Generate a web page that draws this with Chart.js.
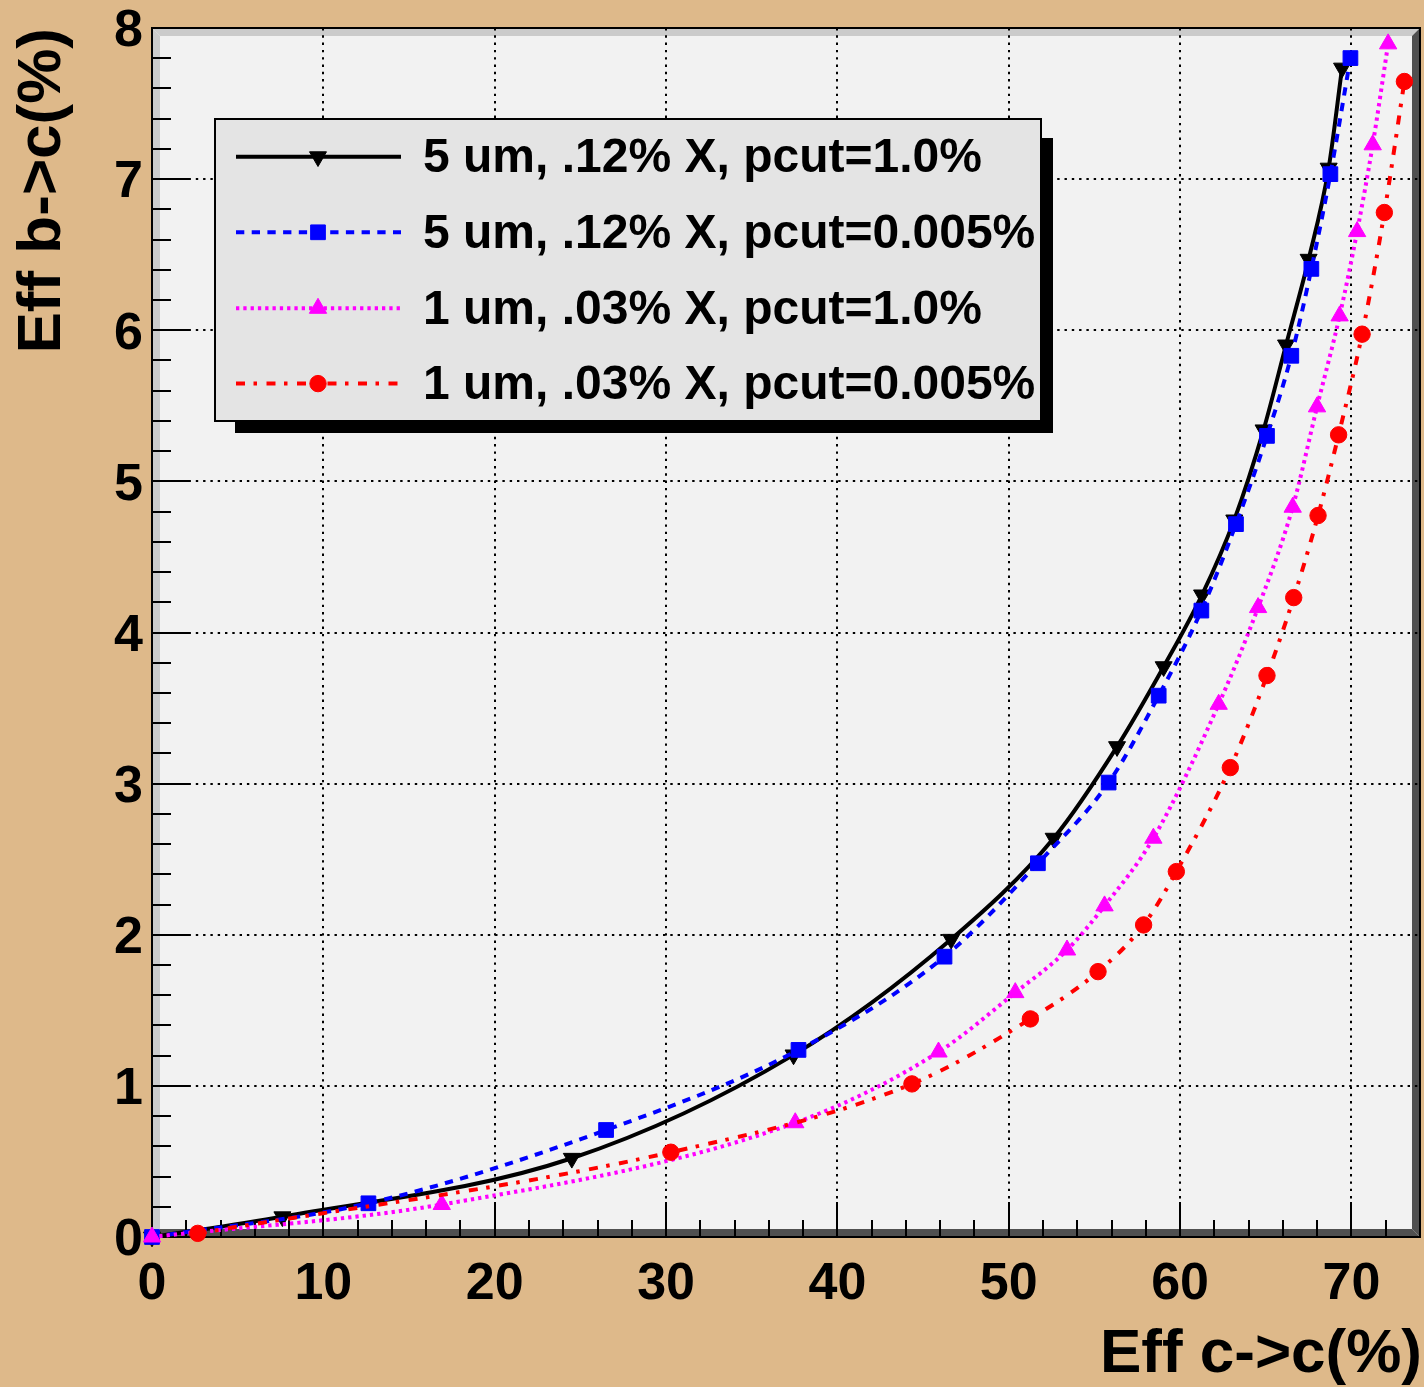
<!DOCTYPE html>
<html>
<head>
<meta charset="utf-8">
<script src="https://cdn.jsdelivr.net/npm/chart.js@4.4.1/dist/chart.umd.min.js"></script>
<style>
  html, body { margin: 0; padding: 0; background: rgb(222,185,138); }
  #wrap { width: 1424px; height: 1387px; }
</style>
</head>
<body>
<div id="wrap"><canvas id="c" width="1424" height="1387"></canvas></div>
<script>
// ---- data ----
const seriesLabels = [
  "5 um, .12% X, pcut=1.0%",
  "5 um, .12% X, pcut=0.005%",
  "1 um, .03% X, pcut=1.0%",
  "1 um, .03% X, pcut=0.005%"
];
const blackX = [0, 7.61, 24.50, 37.44, 46.64, 52.62, 56.32, 59.04, 61.28, 63.16, 64.87, 66.18, 67.50, 68.67, 69.45];
const blackY = [0, 0.134, 0.521, 1.205, 1.970, 2.639, 3.245, 3.774, 4.249, 4.745, 5.341, 5.903, 6.470, 7.073, 7.735];
const blueX  = [0, 12.63, 26.50, 37.73, 46.25, 51.70, 55.83, 58.75, 61.24, 63.26, 65.07, 66.49, 67.66, 68.77, 69.94];
const blueY  = [0, 0.223, 0.708, 1.238, 1.855, 2.473, 3.007, 3.582, 4.145, 4.717, 5.301, 5.831, 6.406, 7.033, 7.801];
const magX   = [0, 16.91, 37.54, 45.90, 50.38, 53.40, 55.59, 58.44, 62.25, 64.55, 66.57, 67.99, 69.31, 70.33, 71.24, 72.14];
const magY   = [0, 0.215, 0.756, 1.224, 1.617, 1.899, 2.191, 2.639, 3.525, 4.165, 4.829, 5.493, 6.095, 6.653, 7.227, 7.895];
const redX   = [2.67, 30.28, 44.35, 51.26, 55.21, 57.87, 59.78, 62.93, 65.07, 66.63, 68.05, 69.25, 70.62, 71.92, 73.09];
const redY   = [0.024, 0.561, 1.013, 1.443, 1.756, 2.065, 2.418, 3.106, 3.715, 4.231, 4.774, 5.308, 5.974, 6.779, 7.646];
const xTickLabels = [0, 10, 20, 30, 40, 50, 60, 70];
const yTickLabels = [0, 1, 2, 3, 4, 5, 6, 7, 8];
const xTitle = "Eff c->c(%)";
const yTitle = "Eff b->c(%)";

// ---- styles ----
const FONT = '"Liberation Sans", Arial, Helvetica, sans-serif';
const styles = [
  { color: '#000000', dash: [], point: 'triangle', rot: 180, r: 9.8 },
  { color: '#0000ff', dash: [8.3, 7.4], point: 'rect', rot: 0, r: 10.4 },
  { color: '#ff00ff', dash: [3.3, 4], point: 'triangle', rot: 0, r: 10 },
  { color: '#ff0000', dash: [9, 8.5, 3.5, 9.5], point: 'circle', rot: 0, r: 8.2 }
];
const xs = [blackX, blueX, magX, redX];
const ys = [blackY, blueY, magY, redY];

function pts(xa, ya) { return xa.map((x, i) => ({ x: x, y: ya[i] })); }

const datasets = seriesLabels.map((lab, i) => ({
  label: lab,
  data: pts(xs[i], ys[i]),
  borderColor: styles[i].color,
  backgroundColor: styles[i].color,
  borderWidth: 4,
  borderDash: styles[i].dash,
  pointStyle: styles[i].point,
  pointRotation: styles[i].rot,
  pointRadius: styles[i].r,
  pointHoverRadius: styles[i].r,
  pointBorderWidth: 1,
  pointBorderColor: styles[i].color,
  pointBackgroundColor: styles[i].color,
  cubicInterpolationMode: 'monotone',
  fill: false,
  clip: false,
  order: 4 - i
}));

function drawMarker(ctx, style, x, y) {
  ctx.save();
  ctx.fillStyle = style.color;
  ctx.strokeStyle = style.color;
  ctx.lineWidth = 1;
  ctx.setLineDash([]);
  Chart.helpers.drawPoint(ctx, { pointStyle: style.point, rotation: style.rot, radius: style.r, borderWidth: 1 }, x, y);
  ctx.restore();
}

function noPad(s) {
  s.paddingTop = 0; s.paddingBottom = 0; s.paddingLeft = 0; s.paddingRight = 0;
}

const framePlugin = {
  id: 'frame',
  beforeDraw(chart) {
    const ctx = chart.ctx;
    const a = chart.chartArea;
    const L = a.left, R = a.right, T = a.top, B = a.bottom, w = 8;
    ctx.save();
    ctx.fillStyle = 'rgb(222,185,138)';
    ctx.fillRect(0, 0, chart.width, chart.height);
    ctx.fillStyle = '#f2f2f2';
    ctx.fillRect(L, T, R - L, B - T);
    // bevel
    ctx.fillStyle = '#cbcbcb';
    ctx.beginPath(); ctx.moveTo(L, T); ctx.lineTo(R, T); ctx.lineTo(R - w, T + w); ctx.lineTo(L + w, T + w); ctx.closePath(); ctx.fill();
    ctx.beginPath(); ctx.moveTo(L, T); ctx.lineTo(L + w, T + w); ctx.lineTo(L + w, B - w); ctx.lineTo(L, B); ctx.closePath(); ctx.fill();
    ctx.fillStyle = '#505050';
    ctx.beginPath(); ctx.moveTo(R, T); ctx.lineTo(R, B); ctx.lineTo(R - w, B - w); ctx.lineTo(R - w, T + w); ctx.closePath(); ctx.fill();
    ctx.beginPath(); ctx.moveTo(L, B); ctx.lineTo(R, B); ctx.lineTo(R - w, B - w); ctx.lineTo(L + w, B - w); ctx.closePath(); ctx.fill();
    ctx.restore();
  },
  beforeDatasetsDraw(chart) {
    const ctx = chart.ctx;
    const a = chart.chartArea;
    const xS = chart.scales.x, yS = chart.scales.y;
    ctx.save();
    ctx.strokeStyle = '#000';
    ctx.lineWidth = 2;
    ctx.setLineDash([]);
    // y ticks: major every 1, minor every 0.2
    for (let k = 0; k <= 40; k++) {
      const v = k * 0.2;
      const py = Math.round(yS.getPixelForValue(v));
      const len = (k % 5 === 0) ? 38 : 19;
      ctx.beginPath(); ctx.moveTo(a.left, py); ctx.lineTo(a.left + len, py); ctx.stroke();
    }
    // x ticks: major every 10, minor every 2
    for (let k = 0; k <= 37; k++) {
      const v = k * 2;
      const px = Math.round(xS.getPixelForValue(v));
      const len = (k % 5 === 0) ? 35 : 17;
      ctx.beginPath(); ctx.moveTo(px, a.bottom); ctx.lineTo(px, a.bottom - len); ctx.stroke();
    }
    // frame
    ctx.strokeRect(a.left, a.top, a.right - a.left, a.bottom - a.top);
    ctx.restore();
  },
  afterDatasetsDraw(chart) {
    const ctx = chart.ctx;
    ctx.save();
    // legend shadow + box
    ctx.fillStyle = '#000';
    ctx.fillRect(235, 138, 818, 295);
    ctx.fillStyle = '#e4e4e4';
    ctx.fillRect(215, 119, 826, 302);
    ctx.strokeStyle = '#000';
    ctx.lineWidth = 2;
    ctx.setLineDash([]);
    ctx.strokeRect(215, 119, 826, 302);
    const rows = [156.7, 232.3, 308.3, 383.6];
    for (let i = 0; i < 4; i++) {
      const y = rows[i];
      ctx.save();
      ctx.strokeStyle = styles[i].color;
      ctx.lineWidth = 4;
      ctx.setLineDash(styles[i].dash);
      ctx.beginPath(); ctx.moveTo(236, y); ctx.lineTo(401, y); ctx.stroke();
      ctx.restore();
      drawMarker(ctx, styles[i], 318, y);
      ctx.fillStyle = '#000';
      ctx.font = 'bold 48px ' + FONT;
      ctx.textAlign = 'left';
      ctx.textBaseline = 'alphabetic';
      ctx.fillText(seriesLabels[i], 423, y + 15.5);
    }
    ctx.restore();
  },
  afterDraw(chart) {
    const ctx = chart.ctx;
    ctx.save();
    ctx.fillStyle = '#000';
    ctx.font = 'bold 62px ' + FONT;
    ctx.textAlign = 'right';
    ctx.textBaseline = 'alphabetic';
    ctx.fillText(xTitle, 1422, 1372);
    ctx.translate(60, 28);
    ctx.rotate(-Math.PI / 2);
    ctx.fillText(yTitle, 0, 0);
    ctx.restore();
  }
};

const tickFont = { family: FONT, size: 52, weight: 'bold' };

new Chart(document.getElementById('c'), {
  type: 'line',
  data: { datasets: datasets },
  options: {
    responsive: false,
    animation: false,
    devicePixelRatio: 1,
    layout: { autoPadding: false, padding: { top: 28, right: 4, left: 0, bottom: 0 } },
    plugins: { legend: { display: false }, tooltip: { enabled: false } },
    scales: {
      x: {
        type: 'linear',
        min: 0, max: 74,
        afterFit(s) { s.height = 150; noPad(s); },
        afterBuildTicks(s) { s.ticks = xTickLabels.map(v => ({ value: v })); },
        ticks: { stepSize: 10, includeBounds: false, font: tickFont, color: '#000', padding: 16, maxRotation: 0, autoSkip: false },
        grid: { drawTicks: false, lineWidth: 2, color: (c) => (c.tick && c.tick.value === 0) ? 'rgba(0,0,0,0)' : '#000' },
        border: { display: false, dash: [2.4, 4.9] }
      },
      y: {
        type: 'linear',
        min: 0, max: 8,
        afterFit(s) { s.width = 152; noPad(s); },
        afterBuildTicks(s) { s.ticks = yTickLabels.map(v => ({ value: v })); },
        ticks: { stepSize: 1, font: tickFont, color: '#000', padding: 9, labelOffset: 4, autoSkip: false },
        grid: { drawTicks: false, lineWidth: 2, color: (c) => (c.tick && c.tick.value === 0) ? 'rgba(0,0,0,0)' : '#000' },
        border: { display: false, dash: [2.4, 4.9] }
      }
    }
  },
  plugins: [framePlugin]
});
</script>
</body>
</html>
